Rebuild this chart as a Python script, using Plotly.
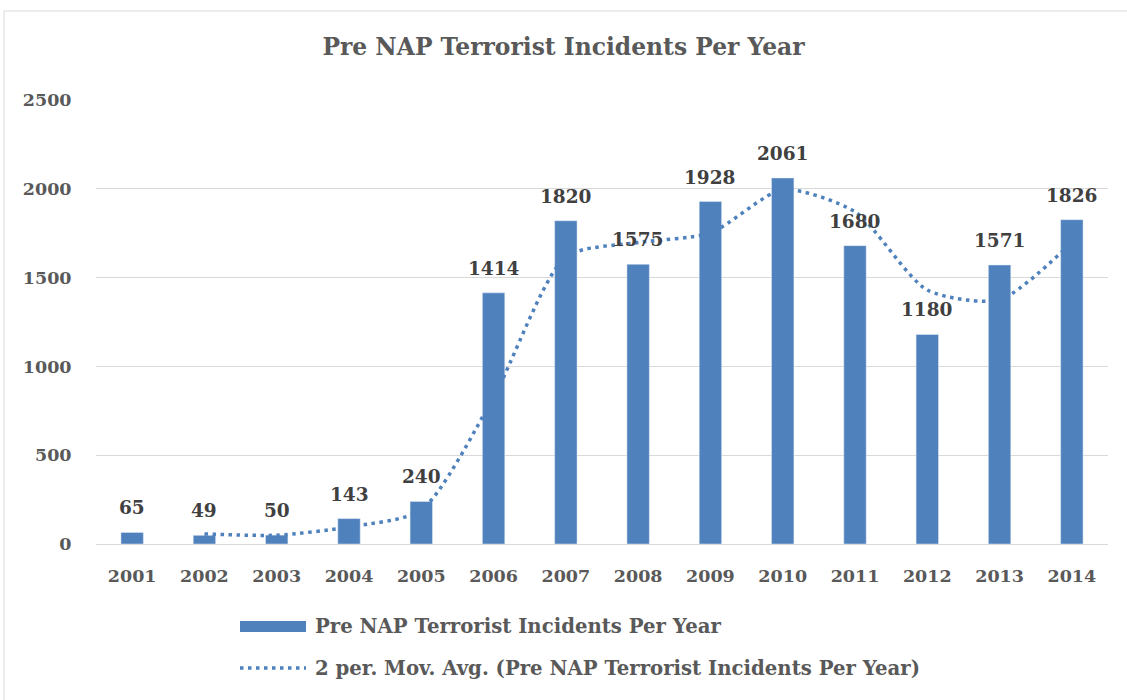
import plotly.graph_objects as go

years = [2001, 2002, 2003, 2004, 2005, 2006, 2007, 2008, 2009, 2010, 2011, 2012, 2013, 2014]
incidents = [65, 49, 50, 143, 240, 1414, 1820, 1575, 1928, 2061, 1680, 1180, 1571, 1826]
mov_avg_years = years[1:]
mov_avg = [57, 49.5, 96.5, 191.5, 827, 1617, 1697.5, 1751.5, 1994.5, 1870.5, 1430, 1375.5, 1698.5]

title_text = "Pre NAP Terrorist Incidents Per Year"
bar_name = "Pre NAP Terrorist Incidents Per Year"
line_name = "2 per. Mov. Avg. (Pre NAP Terrorist Incidents Per Year)"

BLUE = "#4F81BD"
GRAY = "#595959"
FONT = "DejaVu Serif"

fig = go.Figure()
fig.add_trace(go.Bar(
    x=years, y=incidents, name=bar_name, marker_color=BLUE,
))
fig.add_trace(go.Scatter(
    x=mov_avg_years, y=mov_avg, name=line_name, mode="lines",
    line=dict(color=BLUE, width=3.5, dash="3.5px,4.5px", shape="spline", smoothing=0.7),
))

label_annotations = [
    dict(x=yr, y=v, text=str(v), xref="x", yref="y", showarrow=False,
         xanchor="center", yanchor="bottom", yshift=12,
         font=dict(family=FONT, size=18.5, color="#404040", weight="bold"))
    for yr, v in zip(years, incidents)
]

fig.update_layout(
    width=1127, height=700,
    paper_bgcolor="white", plot_bgcolor="white",
    margin=dict(l=96, r=19, t=100, b=156),
    showlegend=False,
    bargap=0.69,
    title=dict(text=title_text, x=0.5, xanchor="center", y=1 - 47/700, yanchor="middle",
               font=dict(family=FONT, size=23.4, color=GRAY, weight="bold")),
    font=dict(family=FONT, color=GRAY),
    xaxis=dict(type="linear", range=[years[0] - 0.5, years[-1] + 0.5],
               tickmode="array", tickvals=years, ticktext=[str(y) for y in years],
               showgrid=False, showline=False, zeroline=False, ticks="outside", ticklen=16,
               tickcolor="rgba(0,0,0,0)",
               tickfont=dict(family=FONT, size=17.5, color=GRAY, weight="bold")),
    yaxis=dict(range=[0, 2500], dtick=500, showgrid=True, gridcolor="#D9D9D9", gridwidth=1,
               zeroline=True, zerolinecolor="#D9D9D9", zerolinewidth=1, showline=False,
               ticks="outside", ticklen=20, tickcolor="rgba(0,0,0,0)",
               tickfont=dict(family=FONT, size=17.5, color=GRAY, weight="bold")),
    shapes=[
        dict(type="rect", xref="paper", yref="paper", x0=-92/1012, x1=1123/1012,
             y0=(156-699)/444, y1=(544-11)/444, line=dict(color="#D9D9D9", width=1),
             fillcolor="rgba(0,0,0,0)", layer="below"),
        dict(type="rect", xref="paper", yref="paper", x0=(240-96)/1012, x1=(306-96)/1012,
             y0=(544-632)/444, y1=(544-621)/444, line=dict(width=0), fillcolor=BLUE),
        dict(type="line", xref="paper", yref="paper", x0=(240-96)/1012, x1=(306-96)/1012,
             y0=(544-668)/444, y1=(544-668)/444,
             line=dict(color=BLUE, width=3.5, dash="3.5px,4.5px")),
    ],
    annotations=label_annotations + [
        dict(text=bar_name, xref="paper", yref="paper", x=(313-96)/1012, y=(544-626)/444,
             xanchor="left", yanchor="middle", showarrow=False,
             font=dict(family=FONT, size=19.7, color=GRAY, weight="bold")),
        dict(text=line_name, xref="paper", yref="paper", x=(313-96)/1012, y=(544-668)/444,
             xanchor="left", yanchor="middle", showarrow=False,
             font=dict(family=FONT, size=19.7, color=GRAY, weight="bold")),
    ],
)

fig.write_html("out.html")
